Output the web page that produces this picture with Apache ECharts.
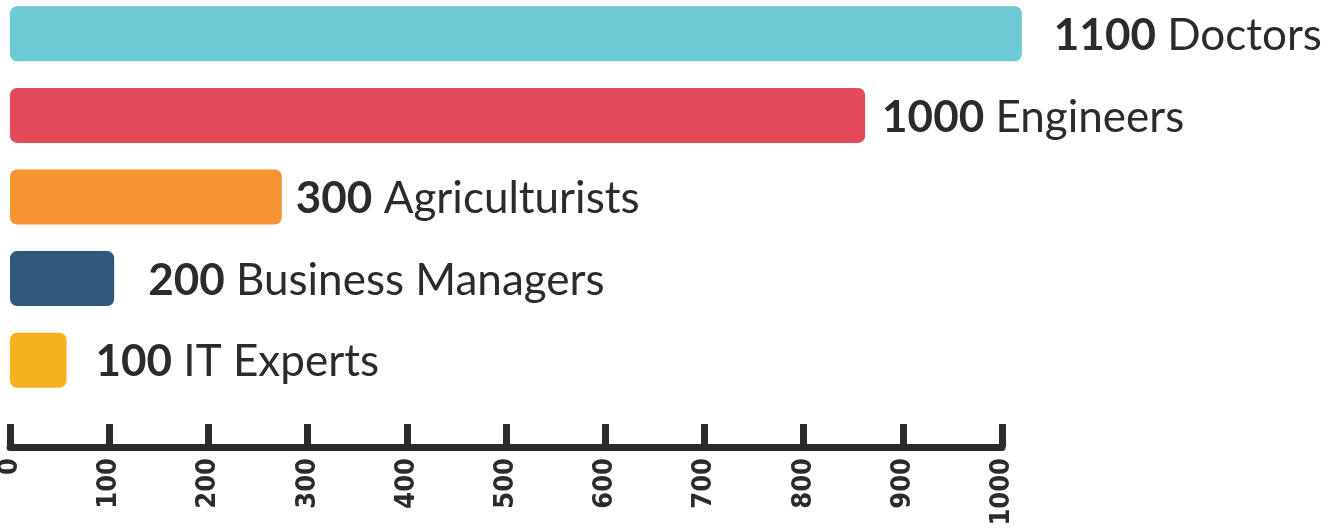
<!DOCTYPE html>
<html>
<head>
<meta charset="utf-8">
<script src="https://cdn.jsdelivr.net/npm/echarts@6/dist/echarts.min.js"></script>
<style>
  html, body { margin: 0; padding: 0; background: #ffffff; }
  #main { width: 1338px; height: 528px; }
</style>
</head>
<body>
<div id="main"></div>
<script>
// categories and the numbers printed next to each bar
var categories = ['Doctors', 'Engineers', 'Agriculturists', 'Business Managers', 'IT Experts'];
var counts = [1100, 1000, 300, 200, 100];
// bar lengths as read off the axis below (the bars are not drawn to the printed numbers)
var barLengths = [1020, 862, 274, 105, 57];
var axisTicks = [0, 100, 200, 300, 400, 500, 600, 700, 800, 900, 1000];

var colors = ['#6ccad4', '#e44a5a', '#f79434', '#30577c', '#f6b11f'];
var labelGap = [32, 17, 14, 34, 29];

var chart = echarts.init(document.getElementById('main'), null, { renderer: 'canvas' });

var data = barLengths.map(function (v, i) {
  return {
    value: v,
    itemStyle: { color: colors[i] },
    label: { distance: labelGap[i] }
  };
});

var option = {
  backgroundColor: '#ffffff',
  animation: false,
  grid: { left: 10, right: 336, top: -7, bottom: 127, outerBoundsMode: 'none', containLabel: false },
  xAxis: {
    type: 'value',
    min: axisTicks[0],
    max: axisTicks[axisTicks.length - 1],
    interval: 100,
    position: 'bottom',
    offset: 46,
    splitLine: { show: false },
    axisLine: { show: true, lineStyle: { color: '#2b2b2b', width: 7 } },
    axisTick: { show: true, inside: true, length: 23, lineStyle: { color: '#2b2b2b', width: 7 } },
    axisLabel: {
      rotate: 90,
      margin: 11,
      color: '#2b2b2b',
      fontFamily: '"DejaVu Sans Condensed", "DejaVu Sans", sans-serif',
      fontWeight: 'bold',
      fontSize: 27,
      formatter: function (v) { return String(v); }
    }
  },
  yAxis: {
    type: 'category',
    inverse: true,
    data: categories,
    show: false
  },
  series: [{
    type: 'bar',
    barWidth: 55,
    clip: false,
    data: data,
    itemStyle: { borderRadius: 7 },
    label: {
      show: true,
      position: 'right',
      offset: [0, 2],
      formatter: function (p) {
        return '{b|' + counts[p.dataIndex] + '}{n| ' + categories[p.dataIndex] + '}';
      },
      rich: {
        b: { fontFamily: 'Lato', fontWeight: 'bold', fontSize: 44, color: '#2b2b2b' },
        n: { fontFamily: 'Lato', fontSize: 44, color: '#2b2b2b' }
      }
    }
  }]
};

chart.setOption(option);
</script>
</body>
</html>
